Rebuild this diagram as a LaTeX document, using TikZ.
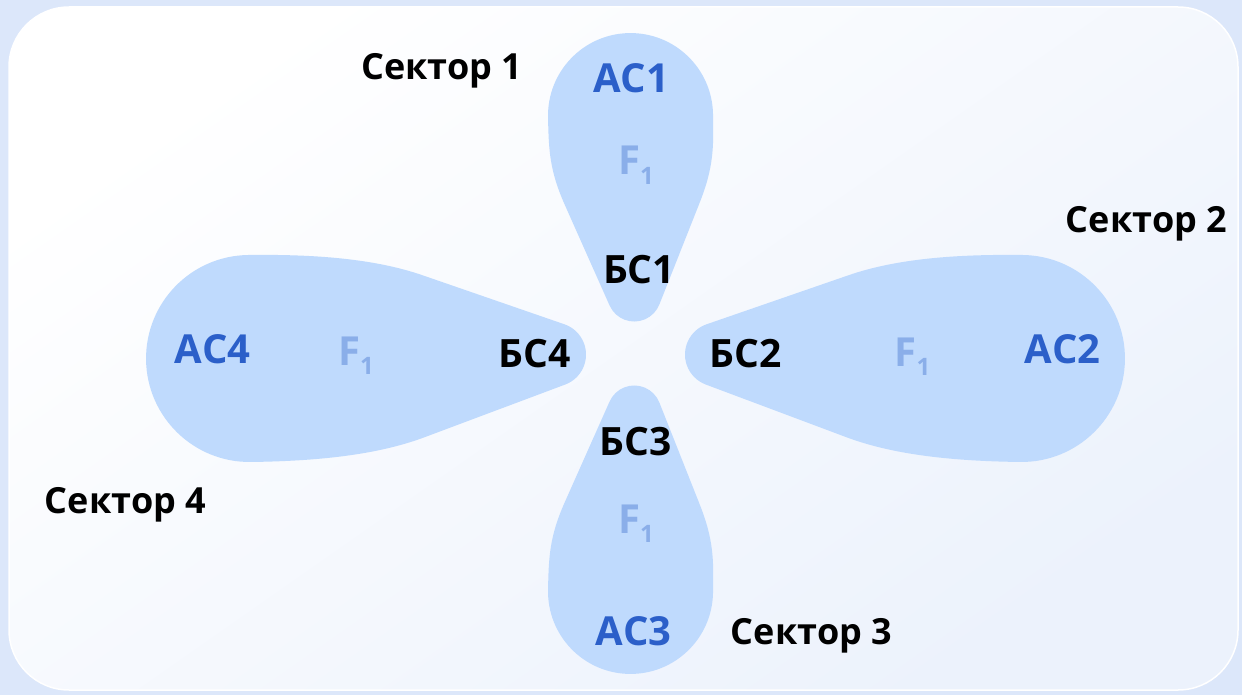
\documentclass[tikz,border=0pt]{standalone}
\usepackage{fontspec}
\setmainfont{Open Sans}

\definecolor{outerbg}{HTML}{DCE7FA}
\definecolor{innerbg}{HTML}{ECF2FC}
\definecolor{petalfill}{HTML}{BFDAFD}
\definecolor{acblue}{HTML}{2B5FC9}
\definecolor{fblue}{HTML}{8AAEE9}

\newcommand{\hpetal}{(70.66,30.11) -- (212,81) .. controls (260,98.3) and (320,103.5) .. (386,103.5)
    arc[start angle=90,end angle=-90,radius=103.5]
    .. controls (320,-103.5) and (260,-98.3) .. (212,-81) -- (70.66,-30.11)
    arc[start angle=250.2,end angle=109.8,radius=32] -- cycle}
\newcommand{\vpetal}{(48.54,24.89) -- (150,67.54) .. controls (185,82.2) and (205,82.5) .. (238,82.5)
    arc[start angle=90,end angle=-90,radius=82.5]
    .. controls (205,-82.5) and (185,-82.2) .. (150,-67.54) -- (48.54,-24.89)
    arc[start angle=247.2,end angle=112.8,radius=27] -- cycle}
\newcommand{\fone}{F\raisebox{-0.24em}{\fontsize{24}{24}\selectfont 1}}

\begin{document}
\begin{tikzpicture}[x=1pt,y=-1pt,
    aclabel/.style={text=acblue,font=\bfseries\fontsize{40}{48}\selectfont,inner sep=0pt,anchor=base},
    bclabel/.style={text=black,font=\bfseries\fontsize{39}{48}\selectfont,inner sep=0pt,anchor=base},
    flabel/.style={text=fblue,font=\bfseries\fontsize{40}{48}\selectfont,inner sep=0pt,anchor=base},
    sectorlabel/.style={text=black,font=\bfseries\fontsize{36}{44}\selectfont,inner sep=0pt,anchor=base},
    petal/.style={fill=petalfill}]
    \useasboundingbox (0,0) rectangle (1242,695);
    \fill[outerbg] (0,0) rectangle (1242,695);
    \draw[white,line width=1.5pt,rounded corners=60pt,top color=white,bottom color=innerbg,shading angle=35]
        (9,7) rectangle (1238,690);
    \fill[petal,shift={(635.5,353.5)},rotate=91.2] \vpetal;
    \fill[petal,shift={(635.5,353.5)},rotate=-0.74] \hpetal;
    \fill[petal,shift={(635.5,353.5)},rotate=268.8] \vpetal;
    \fill[petal,shift={(635.5,353.5)},rotate=180.74] \hpetal;

    \node[aclabel] (ac1) at (631,93) {АС1};
    \node[aclabel] (ac2) at (1062.5,363) {АС2};
    \node[aclabel] (ac3) at (633.5,645) {АС3};
    \node[aclabel] (ac4) at (212.5,363) {АС4};
    \node[bclabel] (bc1) at (639,283) {БС1};
    \node[bclabel] (bc2) at (745.5,367) {БС2};
    \node[bclabel] (bc3) at (635.5,455) {БС3};
    \node[bclabel] (bc4) at (534.5,367) {БС4};
    \node[flabel] (f1) at (636,175) {\fone};
    \node[flabel] (f2) at (912.5,366) {\fone};
    \node[flabel] (f3) at (636,533) {\fone};
    \node[flabel] (f4) at (356,365) {\fone};
    \node[sectorlabel] (sec1) at (442,80) {Сектор 1};
    \node[sectorlabel] (sec2) at (1146.5,233) {Сектор 2};
    \node[sectorlabel] (sec3) at (811.5,644) {Сектор 3};
    \node[sectorlabel] (sec4) at (125.5,513) {Сектор 4};
\end{tikzpicture}
\end{document}
